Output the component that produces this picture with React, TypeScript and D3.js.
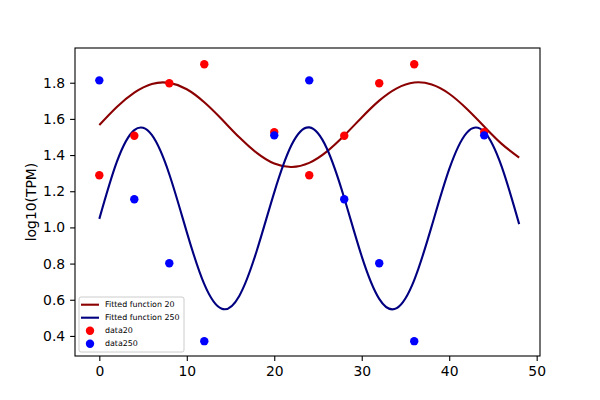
import React, { useEffect, useRef } from "react";
import * as d3 from "d3";

// sample times of the measurements
const sampleTimes = [0, 4, 8, 12, 20, 24, 28, 32, 36, 44];
const data20 = [1.288, 1.507, 1.797, 1.902, 1.527, 1.288, 1.507, 1.797, 1.902, 1.527];
const data250 = [1.813, 1.156, 0.802, 0.371, 1.509, 1.813, 1.156, 0.802, 0.371, 1.509];

// fitted curves, every 2 hours
const fitTimes = [
  0, 2, 4, 6, 8, 10, 12, 14, 16, 18, 20, 22, 24, 26, 28, 30, 32, 34, 36, 38, 40, 42, 44, 46, 48,
];
const fit20 = [
  1.566, 1.666, 1.745, 1.793, 1.799, 1.764, 1.692, 1.598, 1.498, 1.412, 1.353, 1.334, 1.357,
  1.419, 1.508, 1.608, 1.701, 1.769, 1.801, 1.79, 1.739, 1.656, 1.558, 1.462, 1.386,
];
const fit250 = [
  1.047, 1.362, 1.538, 1.511, 1.294, 0.974, 0.686, 0.55, 0.621, 0.871, 1.194, 1.458, 1.553,
  1.438, 1.163, 0.84, 0.605, 0.554, 0.709, 1.007, 1.322, 1.523, 1.529, 1.336, 1.018,
];

const xTicks = [0, 10, 20, 30, 40, 50];
const yTicks = [0.4, 0.6, 0.8, 1.0, 1.2, 1.4, 1.6, 1.8];

const legendItems = [
  { label: "Fitted function 20", color: "#8b0000", kind: "line" },
  { label: "Fitted function 250", color: "#000080", kind: "line" },
  { label: "data20", color: "#ff0000", kind: "dot" },
  { label: "data250", color: "#0000ff", kind: "dot" },
];

const App: React.FC = () => {
  const ref = useRef<SVGSVGElement>(null);

  useEffect(() => {
    const svg = d3.select(ref.current);
    svg.selectAll("*").remove();

    const left = 75;
    const right = 540;
    const top = 48;
    const bottom = 356;
    const font = "DejaVu Sans, sans-serif";

    const x = d3.scaleLinear().domain([-2.78, 50.38]).range([left, right]);
    const y = d3.scaleLinear().domain([0.289, 1.992]).range([bottom, top]);

    const line = d3
      .line<number>()
      .x((d, i) => x(fitTimes[i]))
      .y((d) => y(d))
      .curve(d3.curveNatural);

    svg
      .append("path")
      .datum(fit20)
      .attr("fill", "none")
      .attr("stroke", "#8b0000")
      .attr("stroke-width", 2.1)
      .attr("d", line);

    svg
      .append("path")
      .datum(fit250)
      .attr("fill", "none")
      .attr("stroke", "#000080")
      .attr("stroke-width", 2.1)
      .attr("d", line);

    svg
      .append("g")
      .selectAll("circle")
      .data(data20)
      .enter()
      .append("circle")
      .attr("cx", (d, i) => x(sampleTimes[i]))
      .attr("cy", (d) => y(d))
      .attr("r", 4.2)
      .attr("fill", "#ff0000");

    svg
      .append("g")
      .selectAll("circle")
      .data(data250)
      .enter()
      .append("circle")
      .attr("cx", (d, i) => x(sampleTimes[i]))
      .attr("cy", (d) => y(d))
      .attr("r", 4.2)
      .attr("fill", "#0000ff");

    // axes
    const xAxis = d3.axisBottom(x).tickValues(xTicks).tickSize(4.9).tickPadding(4.9);
    const xg = svg.append("g").attr("transform", `translate(0,${bottom})`).call(xAxis);
    xg.select(".domain").remove();
    xg.selectAll(".tick line").attr("stroke", "#000").attr("stroke-width", 1.1);
    xg.selectAll(".tick text")
      .attr("fill", "#000")
      .attr("font-size", 13.9)
      .attr("font-family", font);

    const yAxis = d3
      .axisLeft(y)
      .tickValues(yTicks)
      .tickFormat(d3.format(".1f"))
      .tickSize(4.9)
      .tickPadding(4.9);
    const yg = svg.append("g").attr("transform", `translate(${left},0)`).call(yAxis);
    yg.select(".domain").remove();
    yg.selectAll(".tick line").attr("stroke", "#000").attr("stroke-width", 1.1);
    yg.selectAll(".tick text")
      .attr("fill", "#000")
      .attr("font-size", 13.9)
      .attr("font-family", font);

    svg
      .append("rect")
      .attr("x", left)
      .attr("y", top)
      .attr("width", right - left)
      .attr("height", bottom - top)
      .attr("fill", "none")
      .attr("stroke", "#000")
      .attr("stroke-width", 1.1);

    svg
      .append("text")
      .attr("transform", `translate(31,${(top + bottom) / 2}) rotate(-90)`)
      .attr("text-anchor", "middle")
      .attr("dy", "0.35em")
      .attr("font-size", 13.9)
      .attr("font-family", font)
      .text("log10(TPM)");

    // legend
    const lg = svg.append("g").attr("transform", "translate(79,297)");
    lg.append("rect")
      .attr("width", 105)
      .attr("height", 55)
      .attr("rx", 2)
      .attr("fill", "#fff")
      .attr("fill-opacity", 0.8)
      .attr("stroke", "#cccccc")
      .attr("stroke-width", 1);

    const rows = lg
      .selectAll("g.item")
      .data(legendItems)
      .enter()
      .append("g")
      .attr("class", "item")
      .attr("transform", (d, i) => `translate(0,${7.7 + i * 13})`);

    rows
      .filter((d) => d.kind === "line")
      .append("line")
      .attr("x1", 2)
      .attr("x2", 20)
      .attr("stroke", (d) => d.color)
      .attr("stroke-width", 2.1);

    rows
      .filter((d) => d.kind === "dot")
      .append("circle")
      .attr("cx", 11)
      .attr("r", 4.2)
      .attr("fill", (d) => d.color);

    rows
      .append("text")
      .attr("x", 26)
      .attr("dy", "0.35em")
      .attr("font-size", 7.9)
      .attr("font-family", font)
      .text((d) => d.label);
  }, []);

  return (
    <svg
      ref={ref}
      width={600}
      height={400}
      style={{ display: "block", position: "absolute", left: 0, top: 0 }}
    />
  );
};

export default App;
